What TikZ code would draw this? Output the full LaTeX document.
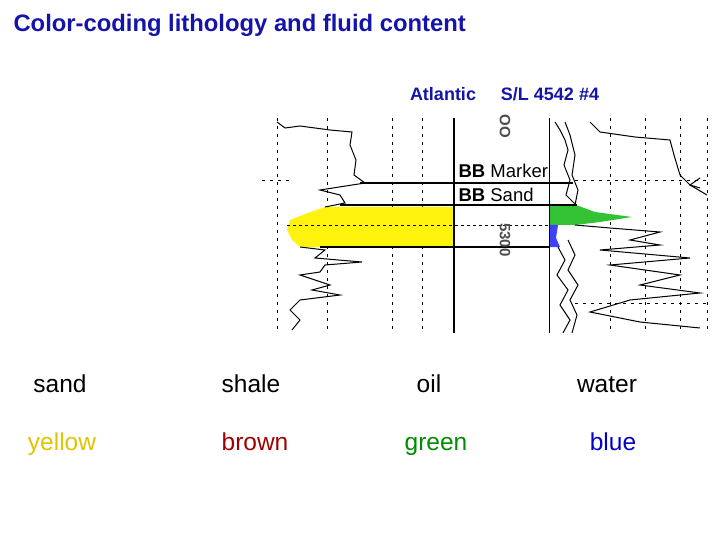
\documentclass[tikz,border=0pt]{standalone}
\usepackage{fontspec}
\setmainfont{Liberation Sans}
\definecolor{navy}{RGB}{20,20,170}
\begin{document}
\begin{tikzpicture}[x=1pt,y=-1pt,
  lbl/.style={font=\fontsize{24.5}{26}\selectfont,anchor=base},
  hdr/.style={font=\bfseries\fontsize{18}{20}\selectfont,text=navy},
  grid/.style={densely dashed,line width=0.5pt,dash pattern=on 3pt off 5pt},
  logc/.style={line width=1pt},
  bar/.style={line width=1.4pt}]
\useasboundingbox (0,0) rectangle (720,540);
\node[anchor=west,font=\bfseries\fontsize{23.8}{25}\selectfont,text=navy] (title) at (10,25) {Color-coding lithology and fluid content};
\node[hdr] (atl) at (443,94) {Atlantic};
\node[hdr] (sl) at (550,94) {S/L 4542 \#4};
% grid
\foreach \gx in {277,327,392,422,610,645,680,707}
  \draw[grid] (\gx,118) -- (\gx,333);
\draw[grid] (262,180) -- (290,180);
\draw[grid] (575,180) -- (707,180);
\draw[grid] (575,303) -- (707,303);
% fills
\fill[yellow!95!white] (325,207) -- (454,207) -- (454,247) -- (300,247) -- (292,240) -- (287,230) -- (290,220) -- (305,214) -- cycle;
\fill[green!70!black!80] (549,205) -- (576,205) -- (595,212) -- (632,217) -- (600,222) -- (575,225) -- (549,225) -- cycle;
\fill[blue!75] (549,225) -- (558,225) -- (556,238) -- (560,247) -- (549,247) -- cycle;
% lines
\draw[bar] (454,118) -- (454,333);
\draw[line width=1pt] (549,118) -- (549,333);
\draw[bar] (360,183) -- (573,183);
\draw[bar] (340,205) -- (577,205);
\draw[bar] (320,247) -- (549,247);
\draw[dashed,line width=0.6pt] (287,225) -- (549,225);
\node[anchor=west,font=\fontsize{18.5}{20}\selectfont] (mk) at (455,171) {\textbf{BB} Marker};
\node[anchor=west,font=\fontsize{18.5}{20}\selectfont] (sd) at (455,195) {\textbf{BB} Sand};
\node[rotate=-90,font=\bfseries\fontsize{15}{17}\selectfont,gray!60!black] (d1) at (505,126) {OO};
\node[rotate=-90,font=\bfseries\fontsize{15}{17}\selectfont,gray!60!black] (d2) at (505,240) {5300};
% left log curve
\draw[logc] (277,122) -- (285,128) -- (300,126) -- (330,130) -- (352,132) -- (350,145) -- (356,160) -- (354,175) -- (365,183) -- (320,190) -- (340,195) -- (345,203) -- (325,207);
\draw[logc] (300,247) -- (325,250) -- (315,258) -- (362,262) -- (325,265) -- (320,272) -- (300,275) -- (330,285) -- (312,290) -- (340,295) -- (300,300) -- (290,310) -- (300,320) -- (292,330);
% right curves
\draw[logc] (555,122) -- (560,130) -- (565,140) -- (568,150) -- (564,165) -- (570,180) -- (566,195) -- (576,205);
\draw[logc] (565,122) -- (570,135) -- (575,155) -- (572,175) -- (578,190) -- (575,205);
\draw[logc] (558,247) -- (565,260) -- (557,275) -- (568,290) -- (560,305) -- (570,320) -- (563,333);
\draw[logc] (568,240) -- (575,255) -- (568,270) -- (578,285) -- (570,300) -- (577,315) -- (572,333);
\draw[logc] (590,122) -- (600,132) -- (635,137) -- (670,140) -- (674,155) -- (680,175) -- (690,185) -- (700,188);
\draw[logc] (700,178) -- (690,185) -- (707,195);
\draw[logc] (575,225) -- (610,228) -- (660,232) -- (630,240) -- (660,245) -- (600,250) -- (690,258) -- (610,265) -- (680,275) -- (640,285) -- (700,293) -- (630,300) -- (590,312) -- (640,322) -- (700,328);
% labels
\node[lbl] (l1) at (60,392) {sand};
\node[lbl] (l2) at (251,392) {shale};
\node[lbl] (l3) at (429,392) {oil};
\node[lbl] (l4) at (607,392) {water};
\node[lbl,text={rgb,255:red,225;green,195;blue,0}] (c1) at (62,450) {yellow};
\node[lbl,text={rgb,255:red,160;green,0;blue,0}] (c2) at (255,450) {brown};
\node[lbl,text={rgb,255:red,0;green,140;blue,0}] (c3) at (436,450) {green};
\node[lbl,text={rgb,255:red,0;green,0;blue,200}] (c4) at (613,450) {blue};
\end{tikzpicture}
\end{document}
